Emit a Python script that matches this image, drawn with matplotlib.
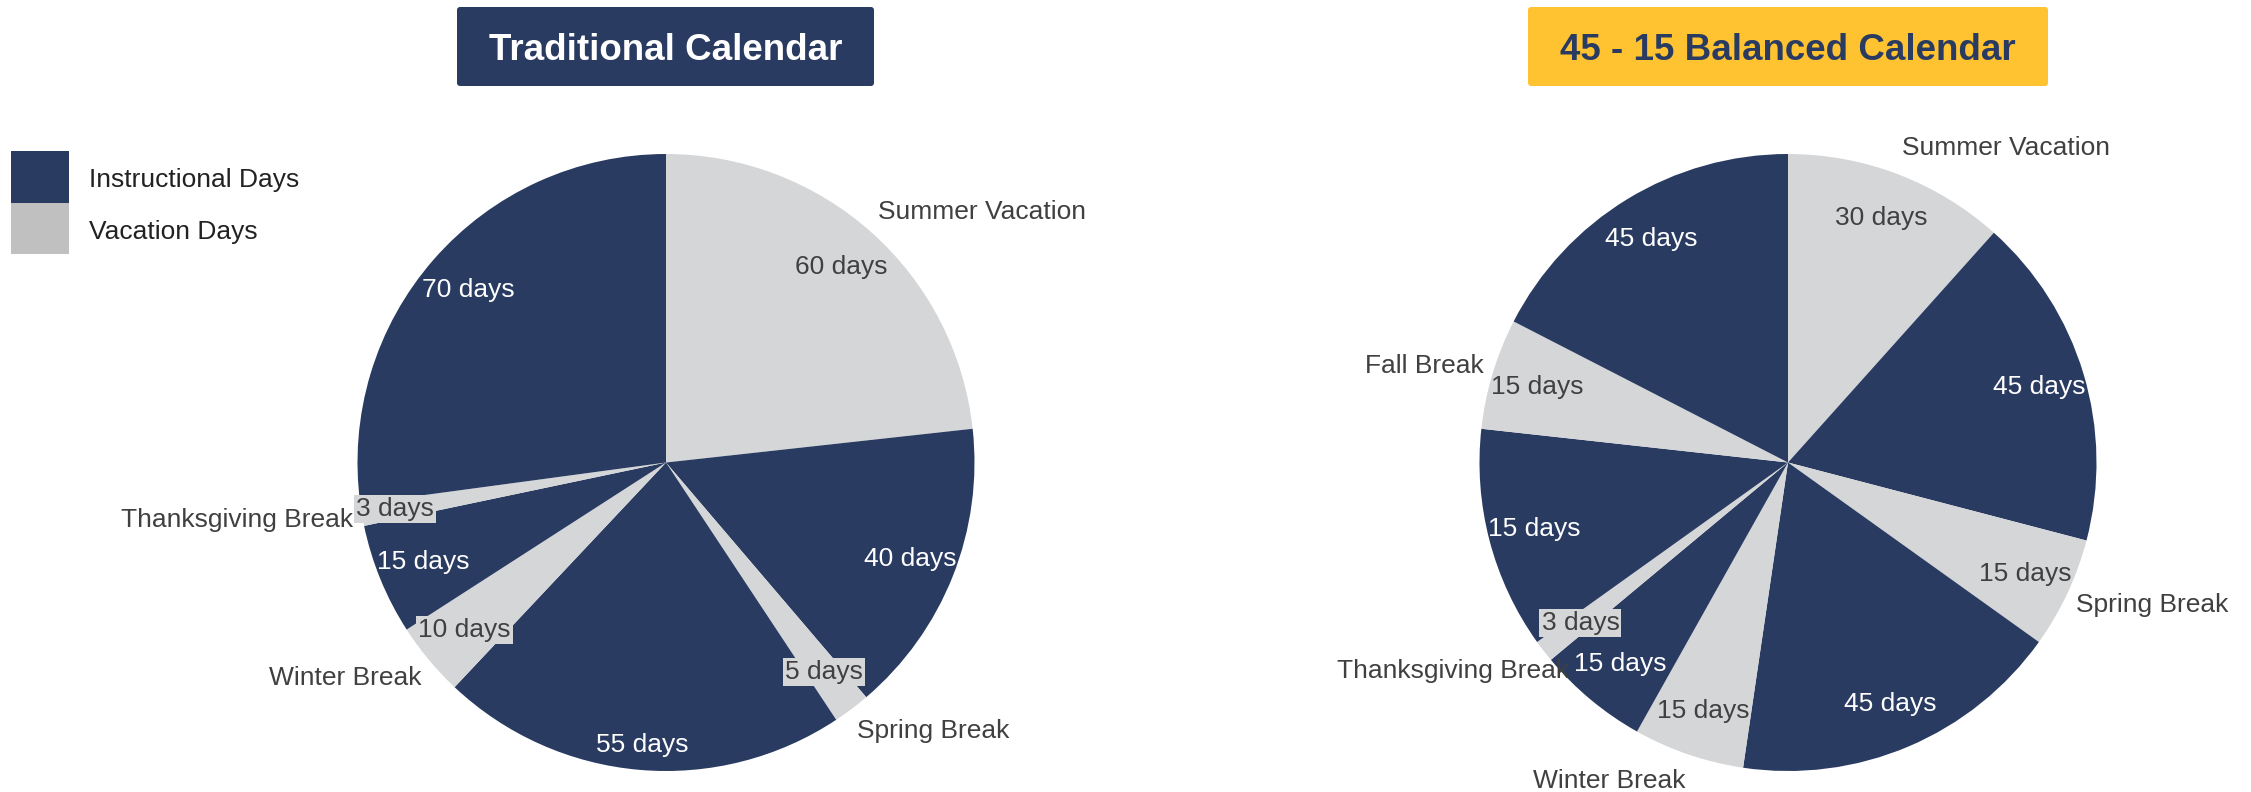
import numpy as np
import matplotlib.pyplot as plt
import matplotlib.patches as patches

plt.rcParams['font.family'] = ['Liberation Sans', 'DejaVu Sans']

NAVY = '#2a3b62'
LIGHT = '#d5d6d8'
LEGEND_GRAY = '#c0c0c0'
YELLOW = '#ffc230'
TEXT = '#404040'

# slices go clockwise from 12 o'clock
trad_names = ['Summer Vacation', '', 'Spring Break', '', 'Winter Break', '',
              'Thanksgiving Break', '']
trad_days = [60, 40, 5, 55, 10, 15, 3, 70]
trad_kind = ['vac', 'ins', 'vac', 'ins', 'vac', 'ins', 'vac', 'ins']
trad_labels = ['60 days', '40 days', '5 days', '55 days', '10 days',
               '15 days', '3 days', '70 days']

bal_names = ['Summer Vacation', '', 'Spring Break', '', 'Winter Break', '',
             'Thanksgiving Break', '', 'Fall Break', '']
bal_days = [30, 45, 15, 45, 15, 15, 3, 30, 15, 45]
bal_kind = ['vac', 'ins', 'vac', 'ins', 'vac', 'ins', 'vac', 'ins', 'vac', 'ins']
bal_labels = ['30 days', '45 days', '15 days', '45 days', '15 days',
              '15 days', '3 days', '15 days', '15 days', '45 days']

legend_names = ['Instructional Days', 'Vacation Days']

W, H = 2251, 792
R = 308.5


def pie_axes(fig, cx, cy):
    return fig.add_axes([(cx - R) / W, 1 - (cy + R) / H, 2 * R / W, 2 * R / H])


def draw_pie(ax, days, kinds, names, labels, inner_dist=None, outer_pos=None):
    inner_dist = inner_dist or {}
    outer_pos = outer_pos or {}
    colors = [NAVY if k == 'ins' else LIGHT for k in kinds]
    wedges, _ = ax.pie(days, colors=colors, startangle=90, counterclock=False,
                       radius=1, wedgeprops=dict(linewidth=0))
    ax.set_xlim(-1, 1)
    ax.set_ylim(-1, 1)
    ax.axis('off')

    for i, w in enumerate(wedges):
        mid = np.deg2rad((w.theta1 + w.theta2) / 2)
        d = inner_dist.get(i, 0.85)
        x, y = d * np.cos(mid), d * np.sin(mid)
        if kinds[i] == 'ins':
            ax.text(x, y, labels[i], color='white', fontsize=19,
                    ha='center', va='center')
        else:
            box = None
            if days[i] <= 10:
                box = dict(boxstyle='square,pad=0.08', fc=LIGHT, ec='none')
            ax.text(x, y, labels[i], color=TEXT, fontsize=19,
                    ha='center', va='center', bbox=box)

        if names[i]:
            if i in outer_pos:
                dist, dth = outer_pos[i]
                ang = mid + np.deg2rad(dth)
                ox, oy = dist * np.cos(ang), dist * np.sin(ang)
            else:
                ox, oy = 1.03 * np.cos(mid), 1.09 * np.sin(mid)
            ax.text(ox, oy, names[i], color=TEXT, fontsize=19,
                    ha='left' if ox > 0 else 'right', va='center')


def title_box(fig, x0, x1, text, fc, tc):
    y0, y1 = 7, 86
    fig.add_artist(patches.FancyBboxPatch((x0, H - y1), x1 - x0, y1 - y0,
                                          boxstyle='round,pad=0,rounding_size=3',
                                          transform=None, fc=fc, ec='none'))
    fig.text((x0 + x1) / 2 / W, 1 - ((y0 + y1) / 2 + 4) / H, text, color=tc,
             fontsize=26.5, fontweight='bold', ha='center', va='center')


fig = plt.figure(figsize=(W / 100, H / 100), dpi=100)

ax1 = pie_axes(fig, 666, 462.5)
draw_pie(ax1, trad_days, trad_kind, trad_names, trad_labels,
         inner_dist={3: 0.92, 6: 0.89})

ax2 = pie_axes(fig, 1788, 462.5)
draw_pie(ax2, bal_days, bal_kind, bal_names, bal_labels,
         outer_pos={6: (0.98, 6)})

title_box(fig, 457, 874, 'Traditional Calendar', NAVY, 'white')
title_box(fig, 1528, 2048, '45 - 15 Balanced Calendar', YELLOW, NAVY)

# legend
for j, (name, c) in enumerate(zip(legend_names, [NAVY, LEGEND_GRAY])):
    top = 151 + j * 51.5
    fig.add_artist(patches.Rectangle((11 / W, 1 - (top + 51.5) / H), 58 / W,
                                     51.5 / H, transform=fig.transFigure,
                                     fc=c, ec='none'))
    fig.text(89 / W, 1 - (top + 29) / H, name, color='#222222', fontsize=19,
             ha='left', va='center')

fig.savefig('out.png', dpi=100, facecolor='white')
